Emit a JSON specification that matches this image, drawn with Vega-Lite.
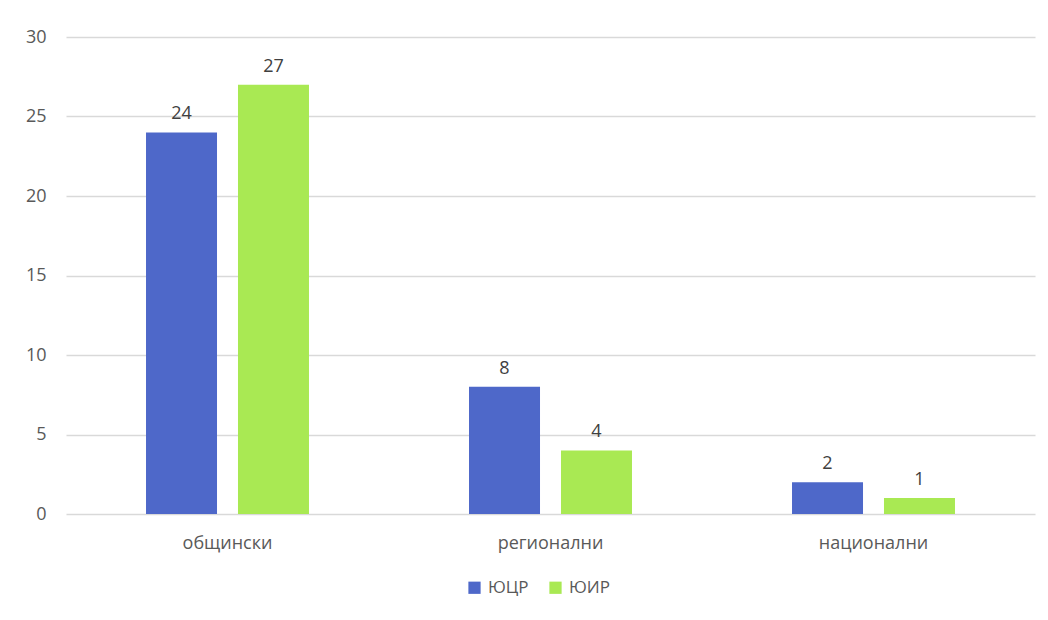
{
  "$schema": "https://vega.github.io/schema/vega-lite/v6.json",
  "width": 969,
  "height": 477,
  "autosize": {"type": "none"},
  "padding": {"left": 66, "top": 37, "right": 13, "bottom": 106},
  "background": "white",
  "config": {"view": {"stroke": null}, "font": "Open Sans"},
  "data": {
    "values": [
      {"cat": "общински", "series": "ЮЦР", "value": 24},
      {"cat": "общински", "series": "ЮИР", "value": 27},
      {"cat": "регионални", "series": "ЮЦР", "value": 8},
      {"cat": "регионални", "series": "ЮИР", "value": 4},
      {"cat": "национални", "series": "ЮЦР", "value": 2},
      {"cat": "национални", "series": "ЮИР", "value": 1}
    ]
  },
  "encoding": {
    "x": {
      "field": "cat", "type": "nominal", "sort": null,
      "scale": {"paddingInner": 0, "paddingOuter": 0},
      "axis": {"title": null, "labelAngle": 0, "ticks": false, "domain": false, "labelFontSize": 18, "labelColor": "#595959", "labelPadding": 20}
    },
    "xOffset": {"field": "series", "type": "nominal", "sort": ["ЮЦР", "ЮИР"], "scale": {"paddingInner": 0.228, "paddingOuter": 0.87}},
    "y": {
      "field": "value", "type": "quantitative",
      "scale": {"domain": [0, 30]},
      "axis": {"title": null, "values": [0,5,10,15,20,25,30], "labelOverlap": false, "ticks": false, "domain": false, "labelFontSize": 18, "labelColor": "#595959", "labelPadding": 20, "gridColor": "#d9d9d9", "gridWidth": 1.5}
    }
  },
  "layer": [
    {
      "mark": {"type": "bar"},
      "encoding": {
        "color": {
          "field": "series", "type": "nominal", "sort": ["ЮЦР", "ЮИР"],
          "scale": {"domain": ["ЮЦР", "ЮИР"], "range": ["#4E68C9", "#A9E953"]},
          "legend": {"title": null, "orient": "none", "legendX": 400, "legendY": 542, "direction": "horizontal", "symbolType": "square", "symbolSize": 150, "labelFontSize": 17, "labelColor": "#595959", "columnPadding": 18, "labelOffset": 5, "symbolStrokeWidth": 0}
        }
      }
    },
    {
      "mark": {"type": "text", "baseline": "bottom", "dy": -9, "fontSize": 18, "color": "#404040"},
      "encoding": {"text": {"field": "value", "type": "quantitative"}}
    }
  ]
}
